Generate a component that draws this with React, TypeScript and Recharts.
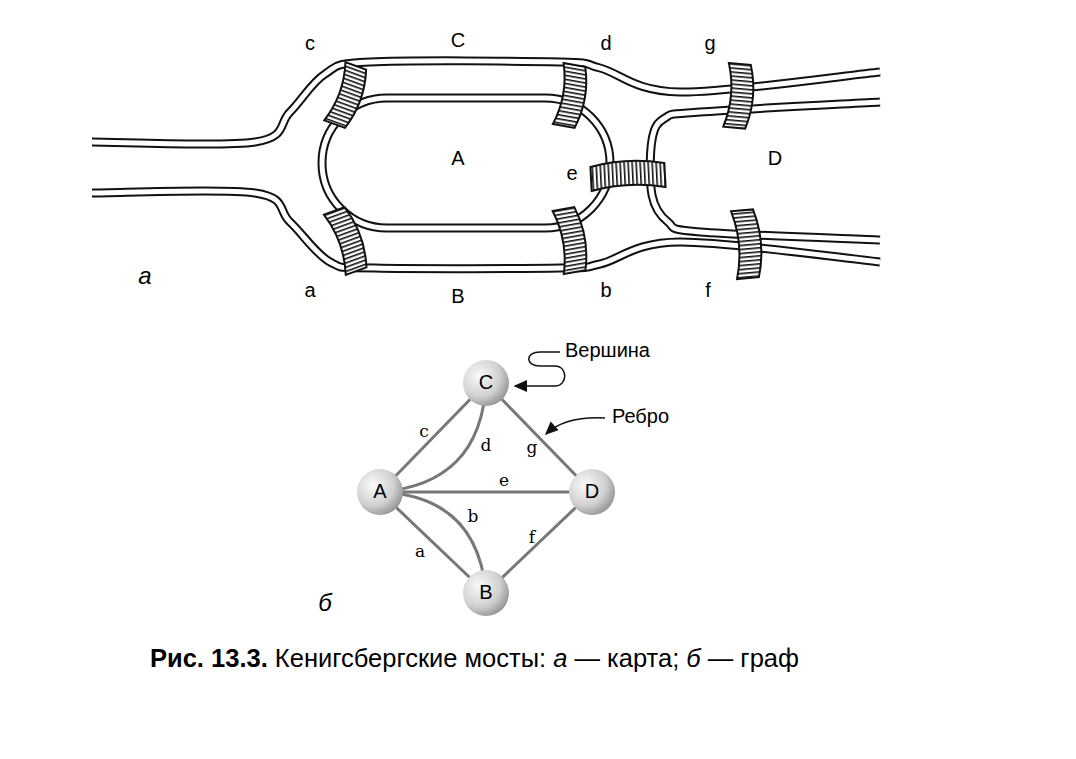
import React from "react";
import { ScatterChart, Scatter, XAxis, YAxis, Customized } from "recharts";

const W = 1076, H = 759;
const nodes = [
  { id: "C", x: 486, y: 383 },
  { id: "A", x: 380, y: 492 },
  { id: "D", x: 592, y: 492 },
  { id: "B", x: 486, y: 593 },
];
const edges: [string, string, number, string, number, number][] = [
  ["A", "C", 0, "c", 424, 432],
  ["A", "C", 0.22, "d", 486, 446],
  ["C", "D", 0, "g", 532, 448],
  ["A", "D", 0, "e", 504, 481],
  ["A", "B", 0, "a", 420, 552],
  ["A", "B", -0.22, "b", 473, 517],
  ["B", "D", 0, "f", 532, 538],
];
const upperBank = [[92,142],[255,142],[290,112],[325,74],[370,62],[560,62],[600,68],[680,92],[880,72]];
const lowerBank = [[92,193],[255,193],[290,222],[330,262],[375,268],[560,268],[600,264],[680,242],[880,262]];
const islandD = [[880,102],[700,112],[665,118],[652,140],[652,195],[668,222],[700,232],[880,240]];
const islandA = [322, 98, 610, 228];
const bridges = [
  { id: "c", x: 348, y: 96, w: 28, h: 62, a: 20 },
  { id: "d", x: 572, y: 96, w: 28, h: 62, a: 10 },
  { id: "a", x: 348, y: 240, w: 28, h: 64, a: -20 },
  { id: "b", x: 572, y: 240, w: 28, h: 64, a: -10 },
  { id: "g", x: 740, y: 96, w: 28, h: 64, a: 5 },
  { id: "f", x: 748, y: 244, w: 28, h: 68, a: -5 },
  { id: "e", x: 628, y: 177, w: 74, h: 24, a: -3 },
];
const mapLabels = [
  ["c",310,45],["C",458,42],["d",606,45],["g",710,45],["A",458,160],["e",572,175],
  ["D",775,160],["a",310,292],["B",458,298],["b",606,292],["f",708,292],
] as [string, number, number][];

function smooth(pts: number[][]) {
  let d = `M${pts[0][0]},${pts[0][1]}`;
  for (let i = 0; i < pts.length - 1; i++) {
    const p0 = pts[Math.max(0, i - 1)], p1 = pts[i], p2 = pts[i + 1], p3 = pts[Math.min(pts.length - 1, i + 2)];
    const c1 = [p1[0] + (p2[0] - p0[0]) / 6, p1[1] + (p2[1] - p0[1]) / 6];
    const c2 = [p2[0] - (p3[0] - p1[0]) / 6, p2[1] - (p3[1] - p1[1]) / 6];
    d += ` C${c1[0]},${c1[1]} ${c2[0]},${c2[1]} ${p2[0]},${p2[1]}`;
  }
  return d;
}

function Drawing(props: any) {
  const xs = props.xAxisMap ? (Object.values(props.xAxisMap)[0] as any).scale : null;
  const ys = props.yAxisMap ? (Object.values(props.yAxisMap)[0] as any).scale : null;
  const X = (v: number) => (xs ? xs(v) : v);
  const Y = (v: number) => (ys ? ys(v) : v);
  const P = (pts: number[][]) => pts.map((p) => [X(p[0]), Y(p[1])]);
  const dbl = (d: string, k: string) => (
    <g key={k}>
      <path d={d} fill="none" stroke="#111" strokeWidth={9} />
      <path d={d} fill="none" stroke="#fff" strokeWidth={5} />
    </g>
  );
  const [ax0, ay0, ax1, ay1] = islandA;
  const r = (Y(ay1) - Y(ay0)) / 2;
  const islandPath = `M${X(ax0) + r},${Y(ay0)} L${X(ax1) - r},${Y(ay0)} A${r},${r} 0 0 1 ${X(ax1) - r},${Y(ay1)} L${X(ax0) + r},${Y(ay1)} A${r},${r} 0 0 1 ${X(ax0) + r},${Y(ay0)} Z`;
  const nm: any = {};
  nodes.forEach((n) => (nm[n.id] = { x: X(n.x), y: Y(n.y) }));
  const ff = "Liberation Sans, Arial, sans-serif";
  return (
    <g>
      <defs>
        <pattern id="hatch" width="4" height="4" patternUnits="userSpaceOnUse">
          <rect width="4" height="4" fill="#fff" />
          <rect width="1.6" height="4" fill="#111" />
        </pattern>
        <pattern id="hatchH" width="4" height="4" patternUnits="userSpaceOnUse">
          <rect width="4" height="4" fill="#fff" />
          <rect width="4" height="1.6" fill="#111" />
        </pattern>
        <radialGradient id="ball" cx="0.35" cy="0.35" r="0.75">
          <stop offset="0" stopColor="#fafafa" />
          <stop offset="0.6" stopColor="#d0d0d0" />
          <stop offset="1" stopColor="#8a8a8a" />
        </radialGradient>
        <marker id="arr" markerWidth="10" markerHeight="10" refX="8" refY="5" orient="auto">
          <path d="M0,1 L9,5 L0,9 Z" fill="#111" />
        </marker>
      </defs>
      {dbl(smooth(P(upperBank)), "u")}
      {dbl(smooth(P(lowerBank)), "l")}
      {dbl(smooth(P(islandD)), "d")}
      {dbl(islandPath, "ia")}
      {bridges.map((b) => (
        <g key={b.id} transform={`translate(${X(b.x)},${Y(b.y)}) rotate(${b.a})`}>
          <path
            d={b.w > b.h
              ? `M${-b.w / 2},${-b.h / 2} Q0,${-b.h / 2 - 8} ${b.w / 2},${-b.h / 2} L${b.w / 2},${b.h / 2} Q0,${b.h / 2 - 8} ${-b.w / 2},${b.h / 2} Z`
              : `M${-b.w / 2},${-b.h / 2} L${b.w / 2 - 6},${-b.h / 2} Q${b.w / 2 + 4},0 ${b.w / 2 - 6},${b.h / 2} L${-b.w / 2},${b.h / 2} Q${-b.w / 2 + 10},0 ${-b.w / 2},${-b.h / 2} Z`}
            fill={b.w > b.h ? "url(#hatch)" : "url(#hatchH)"} stroke="#111" strokeWidth={2}
          />
        </g>
      ))}
      {mapLabels.map(([t, x, y]) => (
        <text key={"m" + t} x={X(x)} y={Y(y)} fontFamily={ff} fontSize={20} textAnchor="middle" dominantBaseline="middle">{t}</text>
      ))}
      <text x={X(145)} y={Y(278)} fontFamily={ff} fontSize={24} fontStyle="italic" textAnchor="middle" dominantBaseline="middle">а</text>
      <text x={X(325)} y={Y(605)} fontFamily={ff} fontSize={24} fontStyle="italic" textAnchor="middle" dominantBaseline="middle">б</text>
      {edges.map(([a, b, c, lab, lx, ly], i) => {
        const p = nm[a], q = nm[b];
        const mx = (p.x + q.x) / 2, my = (p.y + q.y) / 2;
        const dx = q.x - p.x, dy = q.y - p.y;
        const cx = mx - dy * c * 2, cy = my + dx * c * 2;
        return (
          <g key={"e" + i}>
            <path d={`M${p.x},${p.y} Q${cx},${cy} ${q.x},${q.y}`} fill="none" stroke="#777" strokeWidth={3} />
            <text x={X(lx)} y={Y(ly)} fontFamily="DejaVu Serif, serif" fontSize={17} textAnchor="middle" dominantBaseline="middle">{lab}</text>
          </g>
        );
      })}
      {nodes.map((n) => (
        <g key={"n" + n.id}>
          <circle cx={X(n.x)} cy={Y(n.y)} r={23} fill="url(#ball)" />
          <text x={X(n.x)} y={Y(n.y) + 1} fontFamily={ff} fontSize={20} textAnchor="middle" dominantBaseline="middle">{n.id}</text>
        </g>
      ))}
      <path d={`M${X(560)},${Y(352)} L${X(540)},${Y(352)} C${X(525)},${Y(352)} ${X(525)},${Y(366)} ${X(540)},${Y(366)} L${X(555)},${Y(366)} C${X(568)},${Y(366)} ${X(568)},${Y(386)} ${X(555)},${Y(386)} L${X(515)},${Y(386)}`} fill="none" stroke="#111" strokeWidth={1.5} markerEnd="url(#arr)" />
      <text x={X(565)} y={Y(352)} fontFamily={ff} fontSize={20} dominantBaseline="middle">Вершина</text>
      <path d={`M${X(605)},${Y(418)} Q${X(565)},${Y(416)} ${X(546)},${Y(434)}`} fill="none" stroke="#111" strokeWidth={1.5} markerEnd="url(#arr)" />
      <text x={X(612)} y={Y(418)} fontFamily={ff} fontSize={20} dominantBaseline="middle">Ребро</text>
      <text x={X(150)} y={Y(660)} fontFamily={ff} fontSize={25.5} dominantBaseline="middle">
        <tspan fontWeight="bold">Рис. 13.3.</tspan>
        <tspan> Кенигсбергские мосты: </tspan>
        <tspan fontStyle="italic">а</tspan>
        <tspan> — карта; </tspan>
        <tspan fontStyle="italic">б</tspan>
        <tspan> — граф</tspan>
      </text>
    </g>
  );
}

export default function App() {
  return (
    <div style={{ position: "absolute", left: 0, top: 0, width: W, height: H, background: "#fff" }}>
      <ScatterChart width={W} height={H} margin={{ top: 0, right: 0, bottom: 0, left: 0 }}>
        <XAxis type="number" dataKey="x" domain={[0, W]} hide />
        <YAxis type="number" dataKey="y" domain={[0, H]} reversed hide />
        <Scatter data={nodes} fill="transparent" isAnimationActive={false} />
        <Customized component={Drawing} />
      </ScatterChart>
    </div>
  );
}
